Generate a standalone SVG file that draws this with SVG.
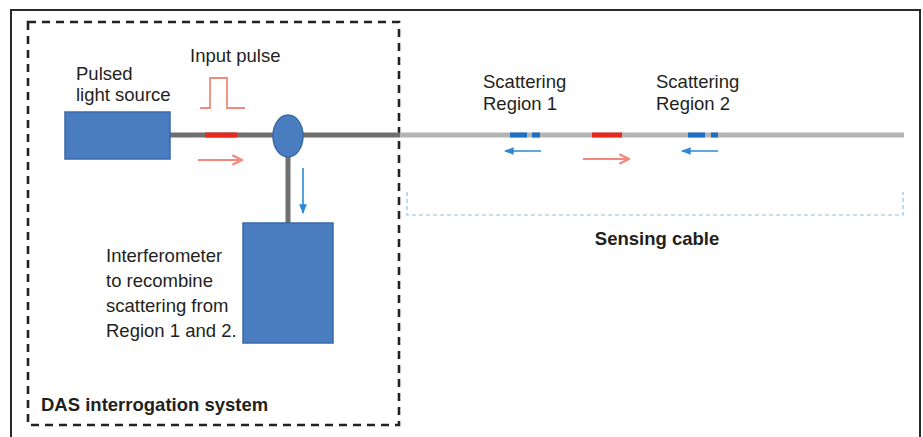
<svg xmlns="http://www.w3.org/2000/svg" width="923" height="437" viewBox="0 0 923 437">
<style>
text{font-family:"Liberation Sans",Arial,sans-serif;font-size:18.5px;fill:#231f20}
.b{font-weight:bold}
.box{fill:#4a7dbf;stroke:#3b69a8;stroke-width:1.5}
.fd{stroke:#6f6f6f;stroke-width:5;fill:none}
.fl{stroke:#b4b4b4;stroke-width:5;fill:none}
.red{stroke:#e8271d;stroke-width:5}
.blu{stroke:#1c6fc6;stroke-width:5}
.ra{stroke:#f2897c;stroke-width:2;fill:none}
.ba{stroke:#2a8ad8;stroke-width:1.6;fill:none}
</style>
<defs>
<marker id="ah-r" viewBox="0 0 10 10" refX="9" refY="5" markerWidth="6" markerHeight="6" orient="auto"><path d="M1,1 L9,5 L1,9" fill="none" stroke="#f2897c" stroke-width="2"/></marker>
<marker id="ah-b" viewBox="0 0 10 10" refX="9" refY="5" markerWidth="6" markerHeight="6" orient="auto"><path d="M0,1 L10,5 L0,9 Z" fill="#2a8ad8"/></marker>
</defs>
<rect width="923" height="437" fill="#ffffff"/>
<path d="M11,440 V10 H920 V440" fill="none" stroke="#2a2a2a" stroke-width="2"/>
<g id="das-system">
<rect x="28" y="22" width="371" height="403" fill="none" stroke="#222" stroke-width="2.6" stroke-dasharray="8,6"/>
<text class="b" x="41" y="411">DAS interrogation system</text>
</g>
<g id="connectors">
<line class="fd" x1="170" y1="135" x2="400" y2="135"/>
<line class="fl" x1="400" y1="135" x2="904" y2="135"/>
<line class="fd" x1="288" y1="150" x2="288" y2="223"/>
<line class="red" x1="205" y1="135" x2="237" y2="135"/>
<line class="red" x1="592" y1="135" x2="622" y2="135"/>
<line class="blu" x1="510" y1="135" x2="527" y2="135"/>
<line class="blu" x1="532" y1="135" x2="540" y2="135"/>
<line class="blu" x1="688" y1="135" x2="705" y2="135"/>
<line class="blu" x1="711" y1="135" x2="718" y2="135"/>
<line class="ra" x1="198" y1="160" x2="242" y2="160" marker-end="url(#ah-r)"/>
<line class="ra" x1="583" y1="159" x2="629" y2="159" marker-end="url(#ah-r)"/>
<line class="ba" x1="303" y1="168" x2="303" y2="213" marker-end="url(#ah-b)"/>
<line class="ba" x1="541" y1="151" x2="505" y2="151" marker-end="url(#ah-b)"/>
<line class="ba" x1="718" y1="151" x2="682" y2="151" marker-end="url(#ah-b)"/>
</g>
<g id="input-pulse">
<path d="M200,108 H210 V78 H227 V108 H245" fill="none" stroke="#f2897c" stroke-width="1.8"/>
<text x="190" y="62">Input pulse</text>
</g>
<g id="light-source">
<rect class="box" x="65" y="112" width="105" height="47"/>
<text x="76" y="80">Pulsed</text>
<text x="76" y="101">light source</text>
</g>
<g id="coupler">
<ellipse class="box" cx="288" cy="136" rx="15" ry="21"/>
</g>
<g id="interferometer">
<rect class="box" x="243" y="223" width="90" height="120"/>
<text x="106" y="262">Interferometer</text>
<text x="106" y="287">to recombine</text>
<text x="106" y="312">scattering from</text>
<text x="106" y="337">Region 1 and 2.</text>
</g>
<g id="region1">
<text x="483" y="88">Scattering</text>
<text x="483" y="110">Region 1</text>
</g>
<g id="region2">
<text x="656" y="88">Scattering</text>
<text x="656" y="110">Region 2</text>
</g>
<g id="sensing-cable">
<path d="M407,192 V215 H903 V192" fill="none" stroke="#8cc4e8" stroke-width="1.2" stroke-dasharray="4,3"/>
<text class="b" x="657" y="245" text-anchor="middle">Sensing cable</text>
</g>
</svg>
